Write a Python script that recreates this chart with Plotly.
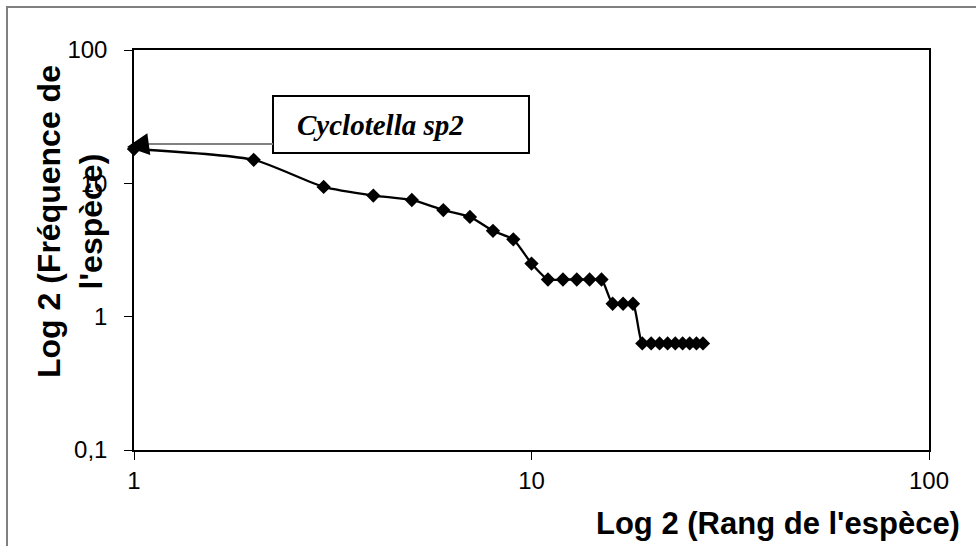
import plotly.graph_objects as go

# Data
ranks = list(range(1, 28))
freq = [18.1, 15.0, 9.4, 8.1, 7.5, 6.3, 5.6, 4.4, 3.8, 2.5,
        1.9, 1.9, 1.9, 1.9, 1.9,
        1.25, 1.25, 1.25,
        0.63, 0.63, 0.63, 0.63, 0.63, 0.63, 0.63, 0.63, 0.63]
y_tickvals = [0.1, 1, 10, 100]
y_ticktext = ["0,1", "1", "10", "100"]
x_tickvals = [1, 10, 100]
x_ticktext = ["1", "10", "100"]
label_species = "Cyclotella sp2"
x_title = "Log 2 (Rang de l'espèce)"
y_title = "Log 2 (Fréquence de<br>l'espèce)"

W, H = 976, 546
L, R, T, B = 134, 47, 50, 96
pw, ph = W - L - R, H - T - B

def px(x):
    return (x - L) / pw

def py(y):
    return (H - B - y) / ph

sans = "Liberation Sans, Arial, sans-serif"
serif = "Liberation Serif, Times New Roman, serif"

fig = go.Figure()
fig.add_trace(go.Scatter(
    x=ranks, y=freq, mode="lines+markers",
    line=dict(color="black", width=2.3, shape="spline", smoothing=0.6),
    marker=dict(symbol="diamond", size=11, color="black"),
    showlegend=False, cliponaxis=False,
))

axis_common = dict(
    type="log", showgrid=False, zeroline=False,
    showline=True, linecolor="black", linewidth=1.5, mirror=True,
    ticks="outside", ticklen=8, tickcolor="black", tickwidth=1.2,
    tickfont=dict(family=sans, size=24, color="black"),
)

fig.update_xaxes(range=[0, 2], tickvals=x_tickvals, ticktext=x_ticktext,
                 ticklabelstandoff=0, **axis_common)
fig.update_yaxes(range=[-1, 2], tickvals=y_tickvals, ticktext=y_ticktext,
                 ticklabelstandoff=12, **axis_common)

shapes = [
    # outer chart frame (clipped by page on right/bottom)
    dict(type="rect", xref="paper", yref="paper",
         x0=px(7), x1=px(1100), y0=py(700), y1=py(7),
         line=dict(color="#808080", width=2), fillcolor="rgba(0,0,0,0)", layer="below"),
    # label box
    dict(type="rect", xref="paper", yref="paper",
         x0=px(273), x1=px(529), y0=py(153), y1=py(96),
         line=dict(color="black", width=2), fillcolor="white"),
    # gray leader line
    dict(type="line", xref="paper", yref="paper",
         x0=px(146), x1=px(273), y0=py(144), y1=py(144),
         line=dict(color="#808080", width=2)),
]

annotations = [
    # black arrowhead
    dict(x=px(127), y=py(147), xref="paper", yref="paper", text="",
         showarrow=True, arrowhead=2, arrowsize=2.2, arrowwidth=2, arrowcolor="black",
         ax=22, ay=-3, standoff=0),
    dict(x=px(295), y=py(125), xref="paper", yref="paper", xanchor="left", yanchor="middle",
         text="<b><i>" + label_species + "</i></b>", showarrow=False,
         font=dict(family=serif, size=29, color="black")),
    dict(x=px(962), y=py(523), xref="paper", yref="paper", xanchor="right", yanchor="middle",
         text="<b>" + x_title + "</b>", showarrow=False,
         font=dict(family=sans, size=31, color="black")),
    dict(x=px(70), y=py(222), xref="paper", yref="paper", xanchor="center", yanchor="middle",
         text="<b>" + y_title + "</b>", showarrow=False, textangle=-90,
         font=dict(family=sans, size=32, color="black")),
]

fig.update_layout(
    width=W, height=H,
    margin=dict(l=L, r=R, t=T, b=B, pad=0),
    paper_bgcolor="white", plot_bgcolor="white",
    shapes=shapes, annotations=annotations,
)

fig.write_html("out.html")
